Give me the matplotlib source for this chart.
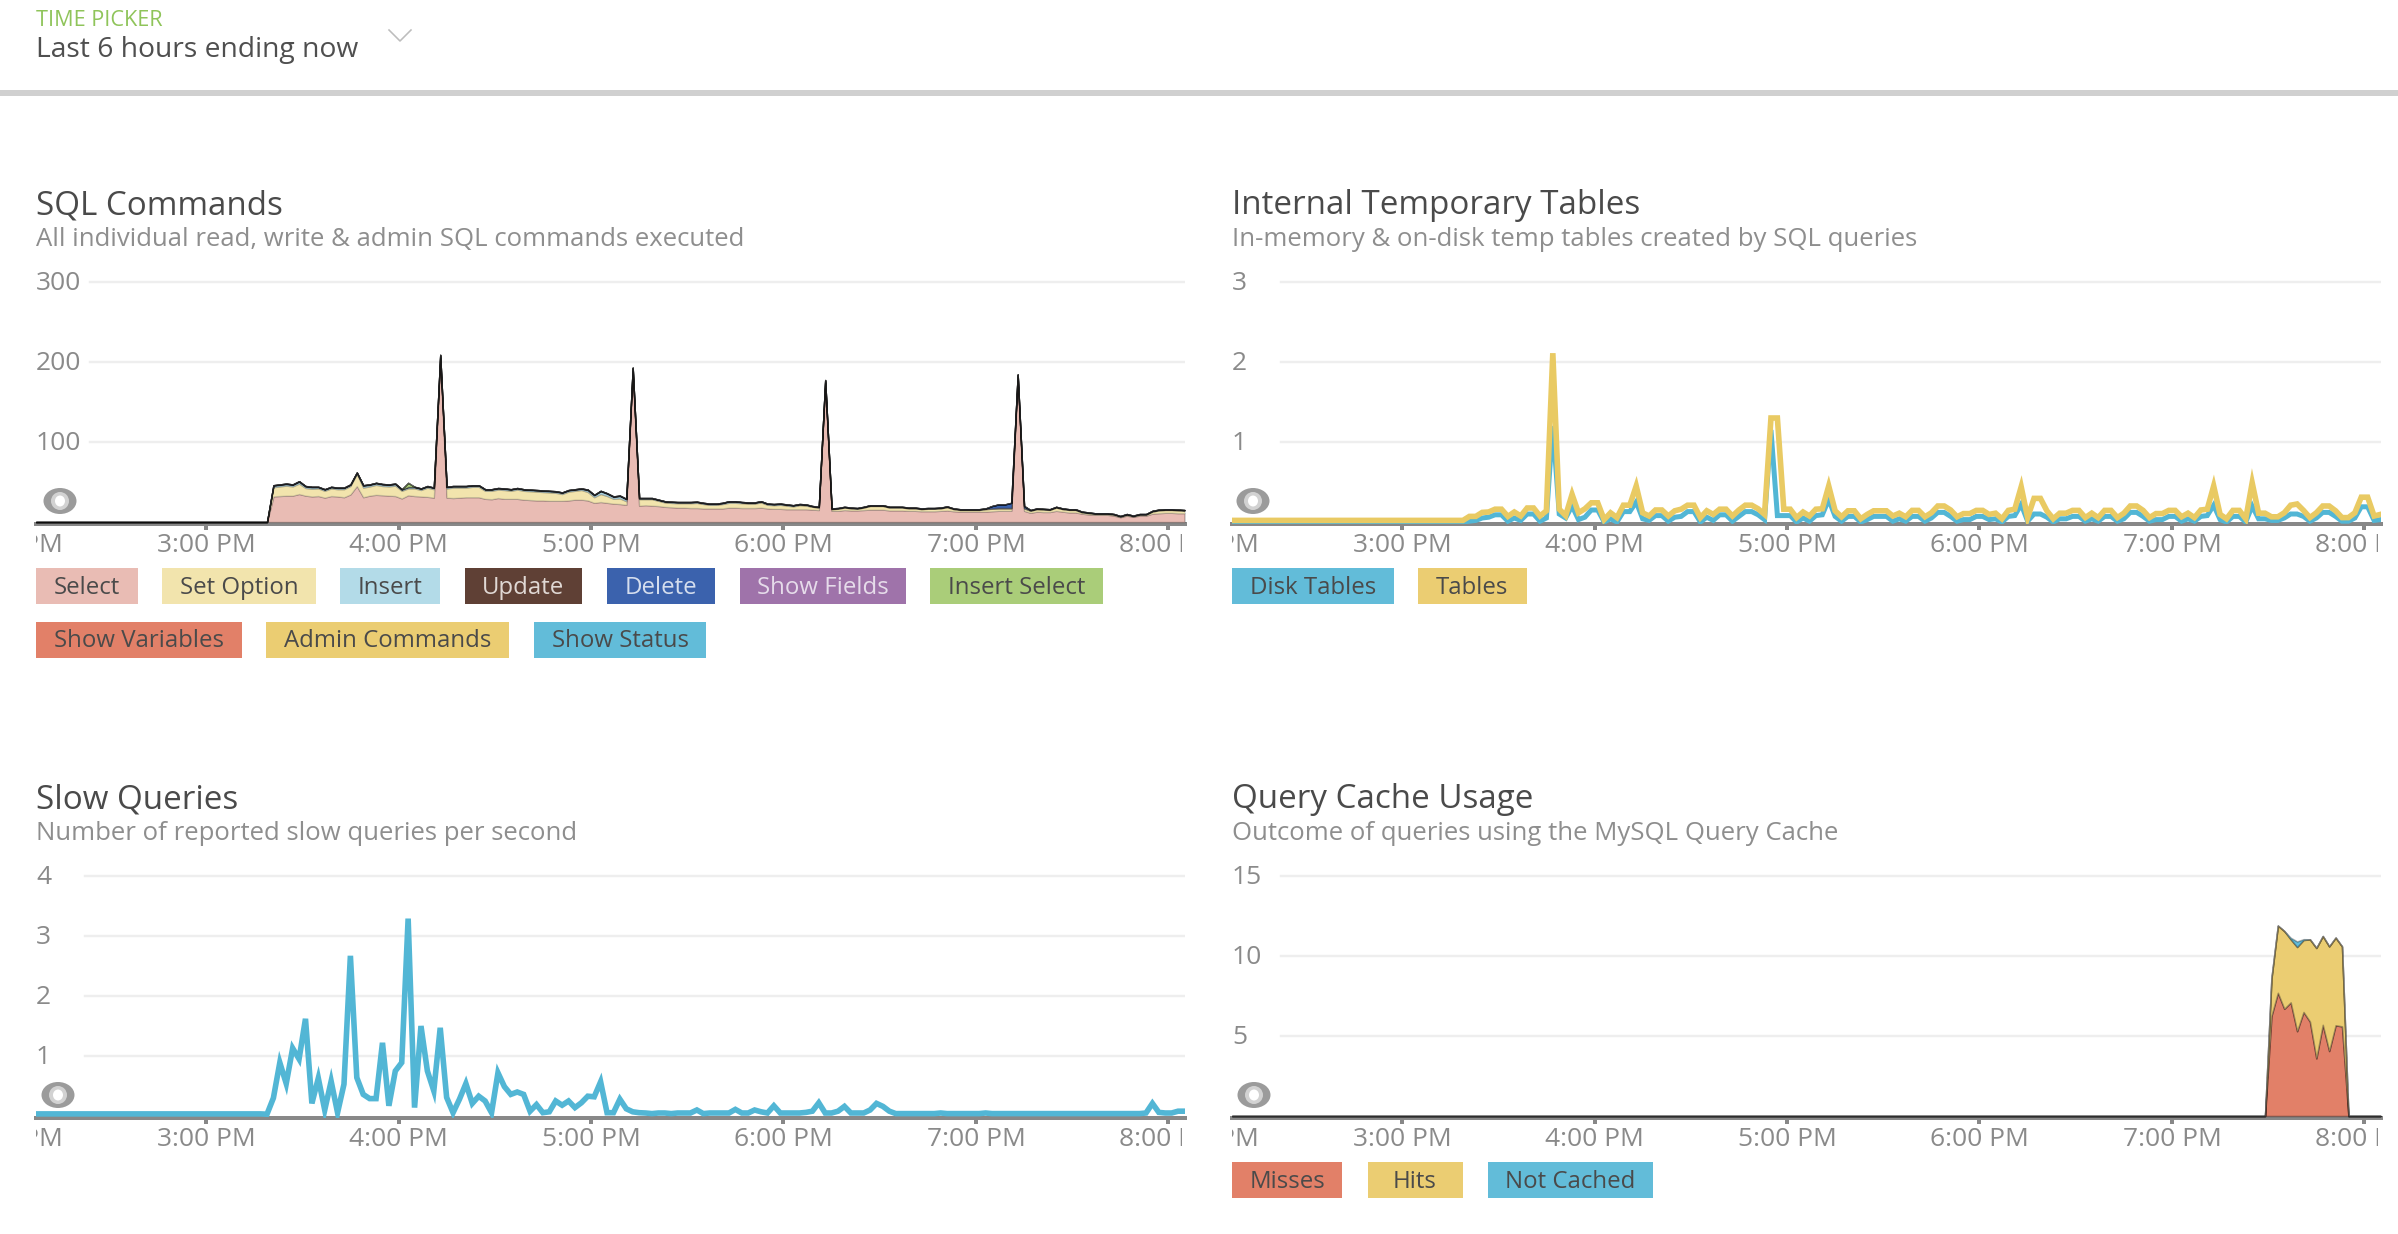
import matplotlib
matplotlib.use("Agg")
import matplotlib.pyplot as plt
import numpy as np
from matplotlib.patches import Rectangle, Ellipse
from matplotlib.lines import Line2D
from matplotlib.transforms import Bbox, ScaledTranslation

plt.rcParams['font.family'] = ['Open Sans', 'DejaVu Sans']

W, H = 2398, 1234

# ---------- data: one sample every 2 minutes, first sample 2:07 PM (minutes after noon)
N = 180
minutes = 127 + 2 * np.arange(N)

tick_minutes = [180, 240, 300, 360, 420, 480]
tick_labels = ['3:00 PM', '4:00 PM', '5:00 PM', '6:00 PM', '7:00 PM', '8:00 PM']
off_left_tick = 120
off_left_label = '2:00 PM'

select = [0] * 37 + [
    32, 32.5, 33, 33, 35, 33, 32, 32.5, 30.5, 32.5, 32, 31, 34.5, 45, 31, 33, 34, 33.5, 33, 32.5,
    29.5, 33.5, 32.5, 32, 31.5, 30.5, 205, 30.5, 30, 30.5, 31, 31, 31, 29, 28.5, 30, 29, 29, 29, 28,
    27.5, 27, 27, 26.5, 26.5, 26.5, 27, 28, 28, 27, 24, 25, 24, 23, 22.5, 21.5, 189, 20.5, 21, 20.5,
    20, 19, 18.5, 18, 18, 17.5, 17.5, 17, 17, 17, 17, 18, 18, 17.5, 17.5, 17.5, 18, 17, 16.5, 16.5,
    16, 16, 16, 16, 15.5, 15, 174, 14, 14, 15, 14.5, 14.5, 15, 15.5, 15.5, 15.5, 14.5, 14.5, 14.5, 14,
    14, 13.5, 13.5, 13.5, 14, 14.5, 13.5, 13, 13, 13, 13, 13, 13.5, 14, 14, 14, 181, 14, 11.5, 13,
    12.5, 12.5, 14, 13, 12, 12, 10.5, 9.5, 9, 9, 9, 8, 6, 8, 6.5, 8, 8, 10.5, 11, 11.5, 11.5, 11, 11]
set_option = [0] * 37 + [
    11.5, 12, 12.5, 11.5, 13, 9.5, 9.5, 9.5, 8.5, 9.5, 9, 10, 10.5, 15, 12, 11.5, 12.5, 11.5, 11.5, 13,
    9.5, 8.5, 9.5, 8, 11.5, 10.5, 2, 11.5, 13, 12.5, 12, 13, 13, 10, 10.5, 10.5, 11, 10, 11.5, 11,
    11, 11, 10.5, 10.5, 10, 8.5, 11, 11, 12, 10.5, 7, 10, 8.5, 6, 7, 4.5, 2, 8, 7.5, 8,
    6.5, 5.5, 5.4, 5.5, 5.5, 6, 6.4, 5.5, 4.5, 4.5, 5.5, 6, 6, 6, 5.5, 5.5, 6.5, 4.5, 4.5, 5,
    4.5, 3.5, 5, 4.5, 3.5, 3, 2, 2, 2.5, 3, 2.5, 2, 3, 4.5, 4.5, 4.5, 3.5, 3.5, 3.5, 3,
    3, 2.5, 3, 3, 3, 4, 2.5, 2, 2, 2, 2, 3, 3, 3, 3, 3, 2, 3, 2.5, 3,
    3, 2.5, 4, 3, 3, 3, 1.5, 1.5, 1, 1, 1, 1, 0.5, 1, 0.5, 1, 1, 2.5, 3.5, 3.5, 3.5, 3.5, 3]
insert = [0] * 37 + [
    1.7, 1.7, 1.7, 1.7, 2.2, 1.7, 1.7, 1.2, 1.2, 1.2, 1.2, 1.2, 1.2, 1.2, 2.2, 1.7, 1.7, 1.7, 1.7, 1.7,
    1.2, 1.2, 1.2, 1.2, 1.2, 1.2, 1.2, 1.2, 1.2, 1.2, 1.2, 1.2, 1.2, 1.2, 1.2, 1.2, 1.2, 1.2, 1.2, 1.2,
    1.2, 1.2, 1.2, 1.2, 1.2, 1.2, 1.2, 1.2, 1.2, 2.2, 2.2, 3.2, 2.7, 2.2, 2.7, 2.2, 1.2, 0.7, 0.7, 0.7,
    0.7, 0.7, 0.7, 0.7, 0.7, 0.7, 0.7, 0.7, 0.7, 0.7, 0.7, 1.2, 1.2, 0.7, 0.7, 0.7, 0.7, 0.7, 0.7, 0.7,
    0.7, 0.7, 0.7, 0.7, 0.2, 0.2, 0.7, 0.2, 0.2, 0.2, 0.2, 0.2, 0.2, 0.2, 0.2, 0.2, 0.2, 0.2, 0.2, 0.2,
    0.2, 0.2, 0.2, 0.2, 0.2, 0.2, 0.2, 0.2, 0.2, 0.2, 0.2, 0.2, 0.2, 0.2, 0.2, 0.2, 0.7, 0.2, 0.2, 0.2,
    0.2, 0.2, 0.2, 0.2, 0.2, 0.2, 0.2, 0.2, 0.2, 0.2, 0.2, 0.2, 0.2, 0.2, 0.2, 0.2, 0.2, 0.2, 0.2, 0.2, 0.2, 0.2, 0.2]
update = [0] * 37 + [0.5] * 143
delete = [0] * 37 + [0.3] * 112 + [2.8, 4.3, 4.3, 6.3, 0.3, 2.3] + [0.3] * 25
show_fields = [0] * N
insert_select = [0] * 58 + [5] + [0] * 121
show_variables = [0] * N
admin_commands = [0] * N
show_status = [0] * N

disk_tables = [0] * 37 + [
    .01, .02, .05, .06, .09, .09, .01, .05, .02, .1, .1, .01, .05, 1.2, .1, .05, .2, .03, .06, .15,
    .15, 0, .04, 0, .13, .13, .25, .04, .02, .08, .08, .01, .06, .07, .13, .13, 0, .06, .02, .09,
    .09, .01, .07, .13, .13, .09, .03, 1.15, .08, .08, .08, 0, .05, .01, .08, .09, .28, .07, .01, .07,
    .07, 0, .03, .07, .07, .07, .01, .04, .01, .07, .07, .01, .05, .12, .12, .07, .01, .03, .03, .07,
    .07, .03, .04, 0, .07, .08, .22, .01, .1, .1, .06, 0, .04, .04, .07, .07, .01, .04, .01, .07,
    .07, .01, .04, .12, .12, .07, .01, .03, .03, .07, .07, .01, .04, .01, .07, .08, .21, .03, 0, .07,
    .07, 0, .2, .04, .04, .02, .02, .05, .1, .1, .07, .01, .05, .12, .12, .07, .01, .01, .05, .19, .19, .02, .03]
tables = [0.02] * 37 + [
    .07, .07, .12, .125, .16, .16, .07, .125, .075, .175, .175, .075, .14, 2.11, .16, .08, .345, .115, .165, .24,
    .24, .03, .115, .055, .21, .21, .45, .115, .075, .15, .15, .075, .14, .16, .21, .21, .055, .14, .095, .16,
    .16, .075, .15, .21, .21, .165, .095, 1.3, 1.3, .16, .16, .055, .125, .075, .16, .165, .45, .14, .065, .14,
    .14, .04, .095, .14, .14, .14, .075, .11, .065, .145, .145, .065, .115, .2, .2, .15, .065, .105, .105, .145,
    .145, .095, .11, .04, .145, .16, .44, .055, .295, .295, .14, .04, .11, .11, .145, .145, .055, .11, .055, .145,
    .145, .055, .11, .2, .2, .145, .055, .105, .105, .145, .145, .065, .11, .055, .15, .16, .45, .095, .04, .145,
    .145, .04, .49, .11, .11, .065, .065, .115, .21, .225, .145, .055, .115, .2, .2, .14, .055, .055, .115, .31, .31, .075, .095]

slow_queries = [.035] * 36 + [
    .03, .3, .89, .54, 1.13, .95, 1.62, .21, .63, .1, .58, .055, .53, 2.67, .64, .36, .29, .29, 1.22, .17,
    .75, .89, 3.29, .14, 1.5, .75, .42, 1.47, .31, .055, .28, .54, .21, .33, .25, .055, .72, .49, .36, .4,
    .36, .08, .19, .055, .07, .25, .18, .25, .14, .22, .33, .32, .57, .055, .055, .28, .12, .07, .055, .05,
    .04, .05, .05, .04, .05, .05, .05, .1, .04, .05, .05, .05, .05, .11, .05, .05, .1, .07, .05, .17,
    .05, .05, .05, .05, .06, .08, .22, .05, .05, .08, .16, .05, .05, .05, .1, .21, .16, .08, .04, .04,
    .04, .04, .04, .04, .04, .05, .04, .04, .04, .04, .04, .04, .05, .04, .04, .04, .04, .04, .04, .04,
    .04, .04, .04, .04, .04, .04, .04, .04, .04, .04, .04, .04, .04, .04, .04, .04, .04, .05,
    .21, .06, .05, .05, .08, .08]

misses = [0] * 162 + [6.25, 7.7, 6.7, 7.1, 5.3, 6.5, 5.9, 3.6, 5.7, 4.06, 5.67, 5.6] + [0] * 6
hits = [0] * 162 + [2.35, 4.2, 4.86, 3.94, 5.26, 4.5, 5.14, 6.9, 5.55, 6.54, 5.48, 5.0] + [0] * 6
not_cached = [0] * 162 + [0, 0, 0, .1, .35, .05, 0, 0, 0, 0, 0, 0] + [0] * 6

sql_names = ['Select', 'Set Option', 'Insert', 'Update', 'Delete', 'Show Fields', 'Insert Select',
             'Show Variables', 'Admin Commands', 'Show Status']
sql_colors = ['#e9bcb4', '#f2e4ad', '#b3dbe8', '#5f4035', '#3b62ad', '#9f73aa', '#aacd79',
              '#e28068', '#ebcd72', '#62bcd9']
sql_text = ['#4a4a4a', '#4a4a4a', '#4a4a4a', '#e0d8d4', '#d5deee', '#e6dcea', '#4a4a4a',
            '#4a4a4a', '#4a4a4a', '#4a4a4a']
temp_names = ['Disk Tables', 'Tables']
cache_names = ['Misses', 'Hits', 'Not Cached']

BLUE, GOLD, RED = '#62bcd9', '#ebcd72', '#e28068'
LINE_BLUE, LINE_GOLD = '#52b6d5', '#e9ca63'

# ---------- layout (pixels)
PANEL_X = [(36, 1184.5), (1232, 2380.5)]
ROW = {'top': dict(top=265, zero=522, band=524), 'bottom': dict(top=860, zero=1116, band=1118)}
FS_TITLE, FS_SUB, FS_TICK, FS_CHIP = 23.9, 18.55, 19, 17.3

fig = plt.figure(figsize=(W / 100, H / 100), dpi=100, facecolor='white')


def fx(x):
    return x / W


def fy(y):
    return 1 - y / H


def px(v):
    return v * 0.72


def panel(col, row, ppu, yticks, grid_from):
    x0, x1 = PANEL_X[col]
    r = ROW[row]
    ax = fig.add_axes([fx(x0), fy(r['band']), (x1 - x0) / W, (r['band'] - r['top']) / H])
    ax.set_xlim(minutes[0], minutes[-1])
    ax.set_ylim(-(r['band'] - r['zero']) / ppu, (r['zero'] - r['top']) / ppu)
    ax.patch.set_alpha(0)
    for s in ('top', 'left', 'right'):
        ax.spines[s].set_visible(False)
    ax.spines['bottom'].set_color('#888888')
    ax.spines['bottom'].set_linewidth(px(4))
    ax.set_xticks(tick_minutes, tick_labels)
    ax.tick_params(axis='x', length=px(6), width=px(4), color='#888888', labelsize=FS_TICK,
                   labelcolor='#8a8a8a', pad=px(3.5))
    ax.set_yticks(yticks, [str(v) for v in yticks])
    ax.tick_params(axis='y', length=0, pad=0, labelsize=FS_TICK, labelcolor='#8a8a8a')
    up = ScaledTranslation(0, 1.5 / 100, fig.dpi_scale_trans)
    for lab in ax.get_yticklabels():
        lab.set_ha('left')
        lab.set_transform(lab.get_transform() + up)
    for v in yticks:
        ax.axhline(v, xmin=(grid_from - x0) / (x1 - x0), color='#eeeeee', lw=px(2.4), zorder=0.5)
    clip = Bbox([[x0, 0], [x1 - 2.5, H]])
    for lab in ax.get_xticklabels():
        lab.set_clip_box(clip)
        lab.set_clip_on(True)
    t = fig.text(fx(x0 + (off_left_tick - minutes[0]) / (minutes[-1] - minutes[0]) * (x1 - x0)),
                 fy(r['band'] + 21.5), off_left_label, ha='center', va='center',
                 fontsize=FS_TICK, color='#8a8a8a')
    t.set_clip_box(clip)
    t.set_clip_on(True)
    return ax


def heading(col, y_title, y_sub, title, sub):
    x0 = PANEL_X[col][0]
    fig.text(fx(x0), fy(y_title), title, fontsize=FS_TITLE, color='#4a4a4a', va='center', ha='left')
    fig.text(fx(x0), fy(y_sub), sub, fontsize=FS_SUB, color='#8e8e8e', va='center', ha='left')


def chip(x0, x1, y0, y1, label, color, tcolor):
    fig.add_artist(Rectangle((fx(x0), fy(y1)), (x1 - x0) / W, (y1 - y0) / H, transform=fig.transFigure,
                             facecolor=color, edgecolor='none'))
    fig.text(fx((x0 + x1) / 2), fy((y0 + y1) / 2 + 1.5), label, fontsize=FS_CHIP, color=tcolor,
             ha='center', va='center')


def donut(cx, cy):
    for w, h, c in ((33, 26, '#9b9b9b'), (18, 18, '#d2d2d2'), (10, 11, '#ffffff')):
        fig.add_artist(Ellipse((fx(cx), fy(cy)), w / W, h / H, transform=fig.transFigure,
                               facecolor=c, edgecolor='none', zorder=5))


# header
fig.text(fx(36), fy(21), 'TIME PICKER', fontsize=15.6, color='#8fc45a', va='center', ha='left')
fig.text(fx(36), fy(50), 'Last 6 hours ending now', fontsize=20.3, color='#4f4f4f', va='center', ha='left')
fig.add_artist(Line2D([fx(389), fx(400), fx(411)], [fy(30), fy(41), fy(30)], transform=fig.transFigure,
                      color='#bdbdbd', lw=px(1.6)))
fig.add_artist(Rectangle((0, fy(96)), 1, 6 / H, transform=fig.transFigure, facecolor='#d0d0d0', edgecolor='none'))

# SQL Commands
ax = panel(0, 'top', 0.8, [100, 200, 300], 90)
layers = ax.stackplot(minutes, select, set_option, insert, update, delete, show_fields, insert_select,
                      show_variables, admin_commands, show_status, colors=sql_colors,
                      edgecolor=(0, 0, 0, 0.2), linewidth=px(1.4), zorder=3)
layers[0].set_edgecolor((0, 0, 0, 0.24))
layers[1].set_edgecolor((0, 0, 0, 0.12))
heading(0, 206, 240, 'SQL Commands', 'All individual read, write & admin SQL commands executed')
donut(60, 501)
sql_spans = [(36, 138, 568, 604), (162, 316, 568, 604), (340, 440, 568, 604), (465, 582, 568, 604),
             (607, 715, 568, 604), (740, 906, 568, 604), (930, 1103, 568, 604),
             (36, 242, 622, 658), (266, 509, 622, 658), (534, 706, 622, 658)]
for sp, n, c, tc in zip(sql_spans, sql_names, sql_colors, sql_text):
    chip(*sp, n, c, tc)

# Internal Temporary Tables
ax = panel(1, 'top', 80, [1, 2, 3], 1281)
ax.plot(minutes, disk_tables, color=LINE_BLUE, lw=px(5), zorder=3, solid_joinstyle='miter')
ax.plot(minutes, tables, color=LINE_GOLD, lw=px(5.6), zorder=3.1, solid_joinstyle='miter')
heading(1, 206, 240, 'Internal Temporary Tables', 'In-memory & on-disk temp tables created by SQL queries')
donut(1253, 501)
chip(1232, 1393.5, 568, 604, temp_names[0], BLUE, '#4a4a4a')
chip(1418, 1526.5, 568, 604, temp_names[1], GOLD, '#4a4a4a')

# Slow Queries
ax = panel(0, 'bottom', 60, [1, 2, 3, 4], 85)
ax.plot(minutes, slow_queries, color=LINE_BLUE, lw=px(5.6), zorder=3, solid_joinstyle='miter')
heading(0, 800, 833, 'Slow Queries', 'Number of reported slow queries per second')
donut(58, 1095)

# Query Cache Usage
ax = panel(1, 'bottom', 16, [5, 10, 15], 1281)
ax.stackplot(minutes, misses, hits, not_cached, colors=[RED, GOLD, BLUE],
             edgecolor=(0, 0, 0, 0.3), linewidth=px(1.6), zorder=3)
heading(1, 800, 833, 'Query Cache Usage', 'Outcome of queries using the MySQL Query Cache')
donut(1254, 1095)
chip(1232, 1342, 1162, 1198, cache_names[0], RED, '#4a4a4a')
chip(1367.5, 1462.5, 1162, 1198, cache_names[1], GOLD, '#4a4a4a')
chip(1487.5, 1653, 1162, 1198, cache_names[2], BLUE, '#4a4a4a')

fig.savefig('out.png', dpi=100, facecolor='white')
